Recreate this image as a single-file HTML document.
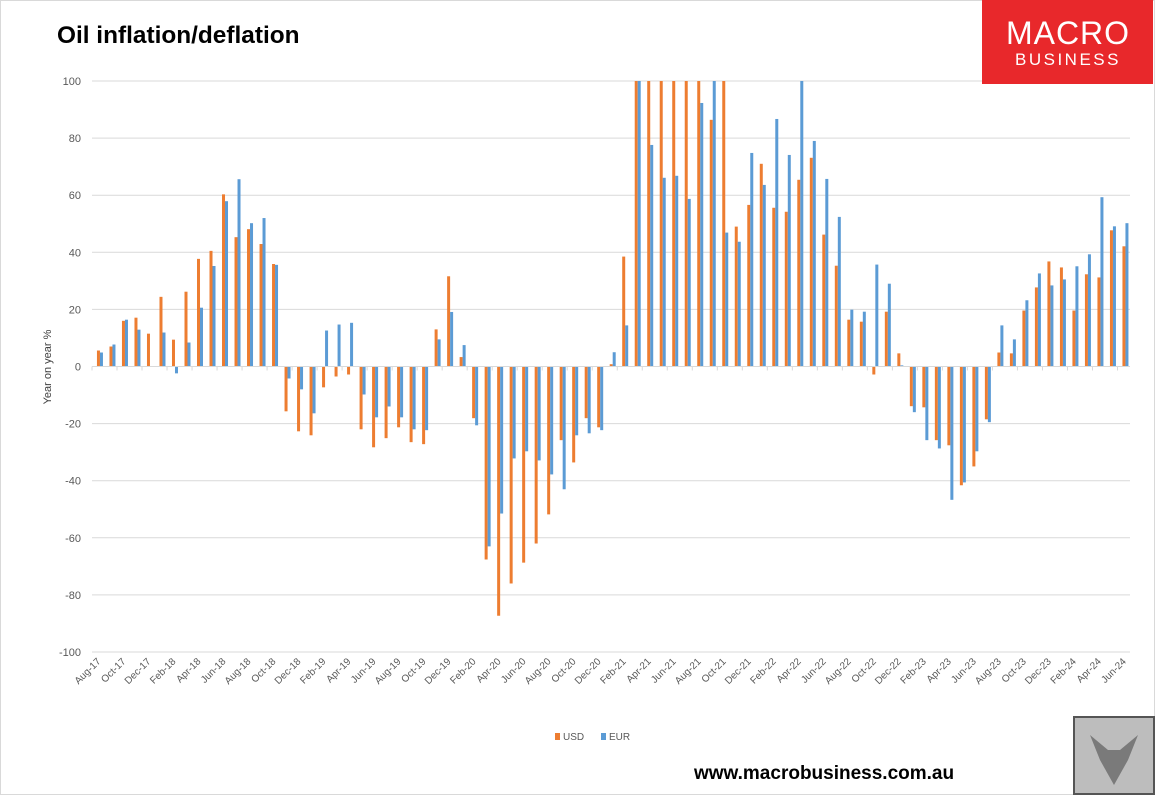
<!DOCTYPE html>
<html><head><meta charset="utf-8">
<style>
body{margin:0;background:#fff;}
svg{display:block;font-family:"Liberation Sans",sans-serif;}
</style></head>
<body>
<svg id="chart" width="1155" height="795" viewBox="0 0 1155 795" xmlns="http://www.w3.org/2000/svg">
<rect x="0" y="0" width="1155" height="795" fill="#fff"/>
<rect x="0.5" y="0.5" width="1154" height="794" fill="none" stroke="#d9d9d9"/>
<text x="57" y="43" font-size="24.4" font-weight="bold" fill="#000">Oil inflation/deflation</text>
<g id="grid"></g>
<g id="bars"></g>
<g id="axes"></g>
<g>
<rect x="982" y="0" width="171" height="84" fill="#e8282b"/>
<text x="1068" y="44" font-size="32" fill="#fff" text-anchor="middle" letter-spacing="1">MACRO</text>
<text x="1068" y="65" font-size="17" fill="#fff" text-anchor="middle" letter-spacing="2.5">BUSINESS</text>
</g>
<text transform="translate(51,367) rotate(-90)" font-size="11" fill="#404040" text-anchor="middle">Year on year %</text>
<g>
<g><rect x="555" y="733" width="5" height="7" fill="#ed7d31"/><text x="563" y="740" font-size="10" fill="#595959">USD</text></g>
<g><rect x="601" y="733" width="5" height="7" fill="#5b9bd5"/><text x="609" y="740" font-size="10" fill="#595959">EUR</text></g>
</g>
<text x="694" y="779" font-size="19" font-weight="bold" fill="#000">www.macrobusiness.com.au</text>
<g>
<rect x="1074" y="717" width="80" height="77" fill="#bdbdbd" stroke="#555" stroke-width="2"/>
<path d="M1090 735 L1100 760 L1114 785 L1128 760 L1138 735 L1120 750 L1108 750 Z" fill="#7a7a7a"/>
</g>
</svg>
<script>
const categories = ["Aug-17","Sep-17","Oct-17","Nov-17","Dec-17","Jan-18","Feb-18","Mar-18","Apr-18","May-18","Jun-18","Jul-18","Aug-18","Sep-18","Oct-18","Nov-18","Dec-18","Jan-19","Feb-19","Mar-19","Apr-19","May-19","Jun-19","Jul-19","Aug-19","Sep-19","Oct-19","Nov-19","Dec-19","Jan-20","Feb-20","Mar-20","Apr-20","May-20","Jun-20","Jul-20","Aug-20","Sep-20","Oct-20","Nov-20","Dec-20","Jan-21","Feb-21","Mar-21","Apr-21","May-21","Jun-21","Jul-21","Aug-21","Sep-21","Oct-21","Nov-21","Dec-21","Jan-22","Feb-22","Mar-22","Apr-22","May-22","Jun-22","Jul-22","Aug-22","Sep-22","Oct-22","Nov-22","Dec-22","Jan-23","Feb-23","Mar-23","Apr-23","May-23","Jun-23","Jul-23","Aug-23","Sep-23","Oct-23","Nov-23","Dec-23","Jan-24","Feb-24","Mar-24","Apr-24","May-24","Jun-24"];
const usdValues = [5.6,7.0,16.0,17.1,11.5,24.4,9.4,26.2,37.7,40.5,60.3,45.3,48.1,42.9,35.9,-15.7,-22.7,-24.1,-7.3,-3.5,-2.8,-22.0,-28.3,-25.1,-21.3,-26.5,-27.2,13.0,31.6,3.3,-18.1,-67.6,-87.3,-76.0,-68.7,-62.0,-51.8,-25.8,-33.6,-18.1,-21.3,0.8,38.5,100,100,100,100,100,100,86.4,100,49.0,56.6,71.0,55.6,54.2,65.4,73.1,46.2,35.3,16.4,15.7,-2.8,19.2,4.6,-13.9,-14.3,-25.8,-27.6,-41.6,-35.0,-18.5,4.9,4.6,19.6,27.7,36.8,34.7,19.6,32.3,31.2,47.7,42.1];
const eurValues = [4.9,7.7,16.4,12.9,0,11.9,-2.4,8.4,20.6,35.2,57.9,65.6,50.2,52.0,35.6,-4.2,-8.0,-16.4,12.6,14.7,15.3,-9.8,-17.8,-14.0,-17.8,-22.0,-22.3,9.5,19.1,7.5,-20.6,-63.0,-51.5,-32.2,-29.7,-32.9,-37.8,-43.0,-24.1,-23.4,-22.3,5.0,14.4,100,77.6,66.1,66.8,58.7,92.3,100,46.9,43.7,74.8,63.6,86.7,74.1,100,79.0,65.7,52.4,19.9,19.2,35.7,29.0,0.4,-16.0,-25.8,-28.7,-46.7,-40.6,-29.7,-19.5,14.4,9.5,23.2,32.6,28.4,30.5,35.1,39.3,59.3,49.1,50.2];
const yTicks = [-100,-80,-60,-40,-20,0,20,40,60,80,100];

const NS = "http://www.w3.org/2000/svg";
const plotL = 92, plotR = 1130, yMin = -100, yMax = 100, yTop = 81, yBot = 652;
const slotW = (plotR - plotL) / categories.length;
function yScale(v){ v = Math.max(yMin, Math.min(yMax, v)); return yTop + (yMax - v) / (yMax - yMin) * (yBot - yTop); }
function xCenter(i){ return plotL + slotW * (i + 0.5); }
function mk(tag, attrs){ const e = document.createElementNS(NS, tag); for (const k in attrs) e.setAttribute(k, attrs[k]); return e; }

const grid = document.getElementById('grid');
const axes = document.getElementById('axes');
const bars = document.getElementById('bars');

yTicks.forEach(t => {
  const y = yScale(t);
  const ln = mk('line', {x1: plotL, x2: plotR, y1: y, y2: y, stroke: '#d9d9d9', 'stroke-width': 1});
  
  
  grid.appendChild(ln);
  const tx = mk('text', {x: 81, y: y + 4, 'font-size': 11, fill: '#595959', 'text-anchor': 'end'});
  tx.textContent = t;
  
  
  axes.appendChild(tx);
});

const y0 = yScale(0);
categories.forEach((c, i) => {
  const cx = xCenter(i);
  const u = usdValues[i], e = eurValues[i];
  if (u !== 0) {
    const yu = yScale(u);
    const r = mk('rect', {x: cx - 1.3, y: Math.min(yu, y0), width: 3, height: Math.abs(yu - y0), fill: '#ed7d31'});
    
    
    bars.appendChild(r);
  }
  if (e !== 0) {
    const ye = yScale(e);
    const r = mk('rect', {x: cx + 1.7, y: Math.min(ye, y0), width: 3, height: Math.abs(ye - y0), fill: '#5b9bd5'});
    
    
    bars.appendChild(r);
  }
  if (i % 2 === 0) {
    const tk = mk('line', {x1: plotL + slotW * i, x2: plotL + slotW * i, y1: y0, y2: y0 + 4, stroke: '#d9d9d9'});
    
    
    axes.appendChild(tk);
    const tx = mk('text', {x: cx + 3, y: 662, 'font-size': 10, fill: '#595959', 'text-anchor': 'end', transform: 'rotate(-45 ' + (cx + 3) + ' 662)'});
    tx.textContent = c;
    
    
    axes.appendChild(tx);
  }
});
const axisLine = mk('line', {x1: plotL, x2: plotR, y1: y0, y2: y0, stroke: '#d9d9d9'});


axes.appendChild(axisLine);
</script>
</body></html>
